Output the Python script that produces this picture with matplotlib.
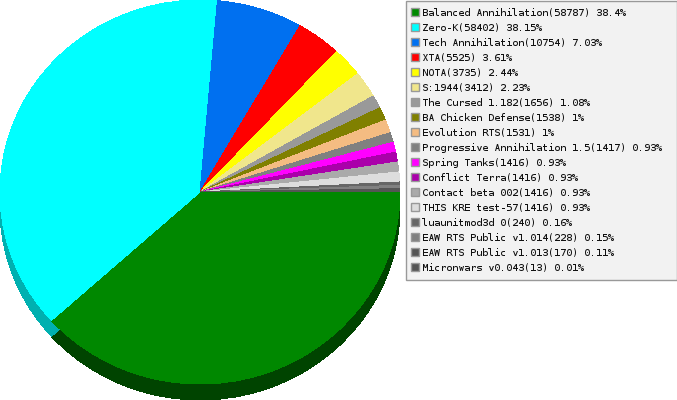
# Pie chart of game share with a fake 3D rim and a boxed legend
import matplotlib
matplotlib.use('Agg')
import matplotlib.pyplot as plt
from matplotlib.patches import Rectangle

names = ['Balanced Annihilation', 'Zero-K', 'Tech Annihilation', 'XTA', 'NOTA', 'S:1944',
         'The Cursed 1.182', 'BA Chicken Defense', 'Evolution RTS', 'Progressive Annihilation 1.5',
         'Spring Tanks', 'Conflict Terra', 'Contact beta 002', 'THIS KRE test-57',
         'luaunitmod3d 0', 'EAW RTS Public v1.014', 'EAW RTS Public v1.013', 'Micronwars v0.043']
counts = [58787, 58402, 10754, 5525, 3735, 3412, 1656, 1538, 1531, 1417,
          1416, 1416, 1416, 1416, 240, 228, 170, 13]
percents = ['38.4', '38.15', '7.03', '3.61', '2.44', '2.23', '1.08', '1', '1', '0.93',
            '0.93', '0.93', '0.93', '0.93', '0.16', '0.15', '0.11', '0.01']
colors = ['#008800', '#00ffff', '#0070f0', '#ff0000', '#ffff00', '#f0e68c', '#999999', '#808000',
          '#f4bc82', '#808080', '#ff00ff', '#aa00aa', '#aaaaaa', '#dddddd', '#666666', '#808080',
          '#555555', '#555555']
rim_colors = ['#004400', '#00b0b0', '#0047b3', '#b30000', '#b3b300', '#a8a162', '#6b6b6b', '#5a5a00',
              '#ab8459', '#5a5a5a', '#b300b3', '#770077', '#777777', '#9b9b9b', '#474747', '#5a5a5a',
              '#3b3b3b', '#3b3b3b']

W, H = 677, 400
CX, CY = 200, 192   # pie centre in pixels
RX, RY = 200, 192
DEPTH = 16

# The original snaps every slice to whole degrees, last slice takes what is left
total = sum(counts)
degrees = [round(c / total * 360) for c in counts]
degrees[-1] = 360 - sum(degrees[:-1])

plt.rcParams['text.hinting'] = 'native'
plt.rcParams['text.hinting_factor'] = 1

fig = plt.figure(figsize=(W / 100, H / 100), dpi=100, facecolor='white')

# Pie axes, squashed a little so the circle is an ellipse
ax = fig.add_axes([0, 0, (CX + RX) / W, 1])
ax.pie(degrees, colors=rim_colors, startangle=0, counterclock=False, radius=1,
       center=(0, -DEPTH / RY), wedgeprops={'linewidth': 0, 'antialiased': False, 'clip_on': False}, frame=True)
ax.pie(degrees, colors=colors, startangle=0, counterclock=False, radius=1,
       center=(0, 0), wedgeprops={'linewidth': 0, 'antialiased': False, 'clip_on': False}, frame=True)
ax.set_aspect('auto')
ax.set_xlim(-1, 1)
ax.set_ylim((CY - H) / RY, CY / RY)
ax.axis('off')

# Legend drawn in pixel coordinates
lg = fig.add_axes([0, 0, 1, 1], facecolor='none')
lg.set_xlim(0, W)
lg.set_ylim(H, 0)
lg.axis('off')
lg.add_patch(Rectangle((405.5, 0.5), 271, 279, facecolor='#f2f2f2', edgecolor='#999999', linewidth=1))
for i in range(len(names)):
    y = 12 + 15 * i
    lg.add_patch(Rectangle((410.5, y - 4.5), 8, 8, facecolor=colors[i], edgecolor='#999999', linewidth=1))
    lg.text(422, y + 0.6, '%s(%d) %s%%' % (names[i], counts[i], percents[i]), family='DejaVu Sans Mono',
            fontsize=7.2, color='#111111', va='center', ha='left')

fig.savefig('out.png', dpi=100)
